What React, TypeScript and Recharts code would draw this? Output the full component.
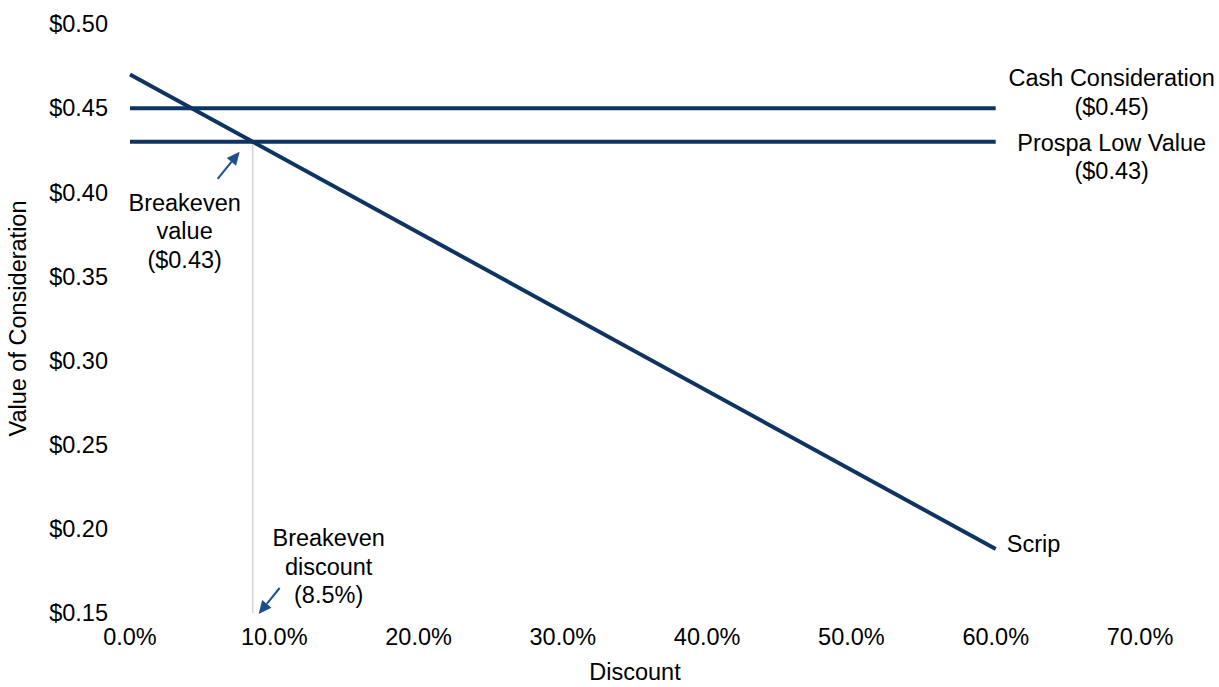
import {
  LineChart,
  Line,
  XAxis,
  YAxis,
  ReferenceLine,
  ReferenceDot
} from 'recharts'

const discountPoints = [0, 0.6]
const scripValues = [0.47, 0.188]
const cashValues = [0.45, 0.45]
const prospaLowValues = [0.43, 0.43]
const xTicks = [0, 0.1, 0.2, 0.3, 0.4, 0.5, 0.6, 0.7]
const yTicks = [0.15, 0.2, 0.25, 0.3, 0.35, 0.4, 0.45, 0.5]
const breakevenDiscount = 0.085
const breakevenValue = 0.43

const NAVY = '#0e3461'
const ARROW = '#1d4f8b'
const FONT = '"Liberation Sans", Arial, sans-serif'
const FS = 23.5

const chartData = discountPoints.map((d, i) => ({
  discount: d,
  scrip: scripValues[i],
  cash: cashValues[i],
  prospa: prospaLowValues[i]
}))

// arrow from (x1,y1) to tip (x2,y2)
function arrow(x1: number, y1: number, x2: number, y2: number) {
  const dx = x2 - x1
  const dy = y2 - y1
  const len = Math.sqrt(dx * dx + dy * dy)
  const ux = dx / len
  const uy = dy / len
  const hl = 13
  const hw = 6
  const bx = x2 - ux * hl
  const by = y2 - uy * hl
  const pts = `${x2},${y2} ${bx - uy * hw},${by + ux * hw} ${bx + uy * hw},${by - ux * hw}`
  return (
    <g>
      <line x1={x1} y1={y1} x2={bx} y2={by} stroke={ARROW} strokeWidth={2} />
      <polygon points={pts} fill={ARROW} />
    </g>
  )
}

function textLines(x: number, y: number, lines: string[], anchor: string = 'middle') {
  return (
    <g>
      {lines.map((t, i) => (
        <text
          key={i}
          x={x}
          y={y + i * 28.5}
          textAnchor={anchor as any}
          dominantBaseline="central"
          fontSize={FS}
          fontFamily={FONT}
          fill="#000"
        >
          {t}
        </text>
      ))}
    </g>
  )
}

export default function App() {
  return (
    <div style={{ position: 'absolute', left: 0, top: 0, background: '#fff' }}>
      <LineChart
        width={1219}
        height={687}
        data={chartData}
        margin={{ top: 24, right: 79, bottom: 0, left: 0 }}
        style={{ fontFamily: FONT }}
      >
        <XAxis
          dataKey="discount"
          type="number"
          domain={[0, 0.7]}
          ticks={xTicks}
          tickFormatter={(v) => `${(v * 100).toFixed(1)}%`}
          axisLine={false}
          tickLine={false}
          tickSize={0}
          tickMargin={15}
          height={74}
          tick={{ fill: '#000', fontSize: FS }}
          label={{ value: 'Discount', position: 'insideBottom', offset: 7, fill: '#000', fontSize: FS }}
        />
        <YAxis
          type="number"
          domain={[0.15, 0.5]}
          ticks={yTicks}
          tickFormatter={(v) => `$${v.toFixed(2)}`}
          axisLine={false}
          tickLine={false}
          tickSize={0}
          tickMargin={22}
          width={130}
          tick={{ fill: '#000', fontSize: FS }}
          label={{
            value: 'Value of Consideration',
            angle: -90,
            position: 'insideLeft',
            offset: 18,
            fill: '#000',
            fontSize: FS,
            style: { textAnchor: 'middle' }
          }}
        />
        <ReferenceLine
          segment={[
            { x: breakevenDiscount, y: 0.15 },
            { x: breakevenDiscount, y: breakevenValue }
          ]}
          stroke="#d4d4d4"
          strokeWidth={1.5}
          ifOverflow="visible"
        />
        <Line dataKey="cash" stroke={NAVY} strokeWidth={4} dot={false} isAnimationActive={false} />
        <Line dataKey="prospa" stroke={NAVY} strokeWidth={4} dot={false} isAnimationActive={false} />
        <Line dataKey="scrip" stroke={NAVY} strokeWidth={4} dot={false} isAnimationActive={false} />
        <ReferenceDot
          x={0.6}
          y={cashValues[1]}
          r={0}
          ifOverflow="visible"
          shape={(p: any) => textLines(p.cx + 116, p.cy - 30, ['Cash Consideration', '($0.45)'])}
        />
        <ReferenceDot
          x={0.6}
          y={prospaLowValues[1]}
          r={0}
          ifOverflow="visible"
          shape={(p: any) => textLines(p.cx + 116, p.cy + 1, ['Prospa Low Value', '($0.43)'])}
        />
        <ReferenceDot
          x={0.6}
          y={scripValues[1]}
          r={0}
          ifOverflow="visible"
          shape={(p: any) => textLines(p.cx + 11, p.cy - 5, ['Scrip'], 'start')}
        />
        <ReferenceDot
          x={breakevenDiscount}
          y={breakevenValue}
          r={0}
          ifOverflow="visible"
          shape={(p: any) => (
            <g>
              {arrow(p.cx - 35, p.cy + 37, p.cx - 13, p.cy + 10)}
              {textLines(p.cx - 68, p.cy + 61, ['Breakeven', 'value', '($0.43)'])}
            </g>
          )}
        />
        <ReferenceDot
          x={breakevenDiscount}
          y={0.15}
          r={0}
          ifOverflow="visible"
          shape={(p: any) => (
            <g>
              {arrow(p.cx + 27, p.cy - 25, p.cx + 6, p.cy + 1)}
              {textLines(p.cx + 76, p.cy - 75, ['Breakeven', 'discount', '(8.5%)'])}
            </g>
          )}
        />
      </LineChart>
    </div>
  )
}
